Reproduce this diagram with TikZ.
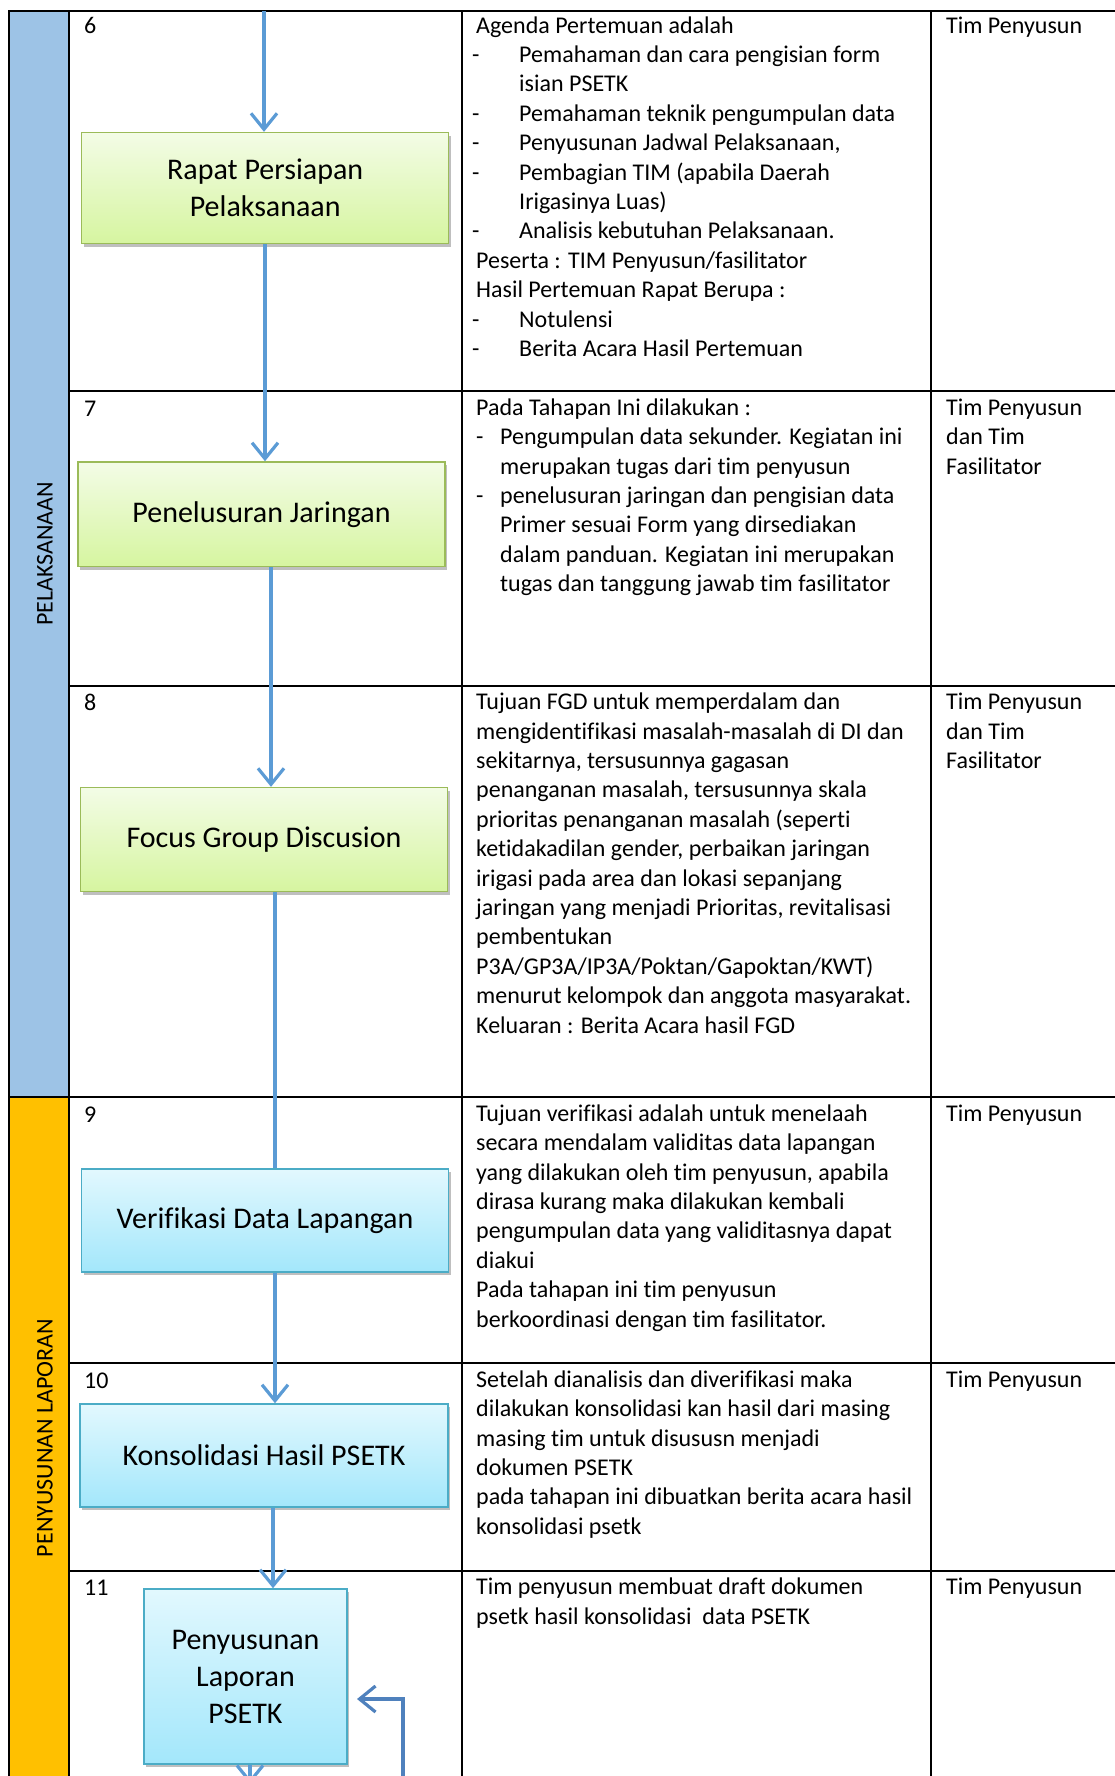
\documentclass[tikz,border=0pt]{standalone}
\usepackage{fontspec}
\setmainfont{Carlito}[Ligatures=NoCommon]
\usetikzlibrary{arrows.meta,shadows}
\definecolor{bandblue}{HTML}{9DC3E6}
\definecolor{bandorange}{HTML}{FFC000}
\definecolor{flowblue}{HTML}{5B9BD5}
\definecolor{loopblue}{HTML}{4F81BD}
\definecolor{greenedge}{HTML}{9BBB59}
\definecolor{greentop}{HTML}{F3FCE6}
\definecolor{greenbot}{HTML}{D6F5A0}
\definecolor{cyanedge}{HTML}{4BACC6}
\definecolor{cyantop}{HTML}{E2F8FE}
\definecolor{cyanbot}{HTML}{A3E7FB}

% list helpers for the description column
\newcommand\itemA{\hspace*{-4pt}\makebox[47pt][l]{-}}
\newcommand\contA{\hspace*{43pt}}
\newcommand\itemB{\makebox[24pt][l]{-}}
\newcommand\contB{\hspace*{24pt}}
\newcommand\firstline{\rule{0pt}{20pt}}

\begin{document}
\begin{tikzpicture}[x=1pt,y=-1pt,
  grid/.style={line width=2pt, black},
  cell/.style={anchor=north west, inner sep=0pt, align=left, font=\fontsize{24}{29.4}\selectfont},
  num/.style={anchor=base west, inner sep=0pt, font=\fontsize{24}{29.4}\selectfont},
  band/.style={rotate=90, inner sep=0pt, font=\fontsize{24}{29.4}\selectfont},
  stepbase/.style={line width=1.5pt, align=center, inner sep=0pt,
    font=\fontsize{30}{37}\selectfont,
    drop shadow={shadow xshift=2pt, shadow yshift=-3pt, opacity=0.25, fill=black}},
  greenstep/.style={stepbase, draw=greenedge, top color=greentop, bottom color=greenbot},
  cyanstep/.style={stepbase, draw=cyanedge, top color=cyantop, bottom color=cyanbot},
  flowline/.style={draw=flowblue, line width=3.2pt},
  flow/.style={flowline, -{Straight Barb[length=16pt,width=26pt]}},
  loopflow/.style={draw=loopblue, line width=3.2pt, -{Straight Barb[length=16pt,width=26pt]}},
]
\useasboundingbox (0,0) rectangle (1115,1776);

% phase bands
\fill[bandblue] (9,11) rectangle (69,1097);
\fill[bandorange] (9,1097) rectangle (69,1800);
\node[band] (phase1) at (45,554) {PELAKSANAAN};
\node[band] (phase2) at (45,1438) {PENYUSUNAN LAPORAN};

% table grid
\draw[grid] (9,1800) -- (9,11) -- (1120,11);
\draw[grid] (69,11) -- (69,1800);
\draw[grid] (462,11) -- (462,1800);
\draw[grid] (931,11) -- (931,1800);
\draw[grid] (69,391) -- (1120,391);
\draw[grid] (69,685.5) -- (1120,685.5);
\draw[grid] (9,1097) -- (1120,1097);
\draw[grid] (69,1363) -- (1120,1363);
\draw[grid] (69,1570.5) -- (1120,1570.5);

% step numbers
\node[num] (n6) at (84,34) {6};
\node[num] (n7) at (84,416) {7};
\node[num] (n8) at (84,710.5) {8};
\node[num] (n9) at (84,1122) {9};
\node[num] (n10) at (84,1388) {10};
\node[num] (n11) at (84,1595.5) {11};

% descriptions
\node[cell] (d6) at (476,13) {\firstline Agenda Pertemuan adalah\\
\itemA Pemahaman dan cara pengisian form\\
\contA isian PSETK\\
\itemA Pemahaman teknik pengumpulan data\\
\itemA Penyusunan Jadwal Pelaksanaan,\\
\itemA Pembagian TIM (apabila Daerah\\
\contA Irigasinya Luas)\\
\itemA Analisis kebutuhan Pelaksanaan.\\
Peserta : TIM Penyusun/fasilitator\\
Hasil Pertemuan Rapat Berupa :\\
\itemA Notulensi\\
\itemA Berita Acara Hasil Pertemuan};

\node[cell] (d7) at (476,395) {\firstline Pada Tahapan Ini dilakukan :\\
\itemB Pengumpulan data sekunder. Kegiatan ini\\
\contB merupakan tugas dari tim penyusun\\
\itemB penelusuran jaringan dan pengisian data\\
\contB Primer sesuai Form yang dirsediakan\\
\contB dalam panduan. Kegiatan ini merupakan\\
\contB tugas dan tanggung jawab tim fasilitator};

\node[cell] (d8) at (476,689.5) {\firstline Tujuan FGD untuk memperdalam dan\\
mengidentifikasi masalah-masalah di DI dan\\
sekitarnya, tersusunnya gagasan\\
penanganan masalah, tersusunnya skala\\
prioritas penanganan masalah (seperti\\
ketidakadilan gender, perbaikan jaringan\\
irigasi pada area dan lokasi sepanjang\\
jaringan yang menjadi Prioritas, revitalisasi\\
pembentukan\\
P3A/GP3A/IP3A/Poktan/Gapoktan/KWT)\\
menurut kelompok dan anggota masyarakat.\\
Keluaran : Berita Acara hasil FGD};

\node[cell] (d9) at (476,1101) {\firstline Tujuan verifikasi adalah untuk menelaah\\
secara mendalam validitas data lapangan\\
yang dilakukan oleh tim penyusun, apabila\\
dirasa kurang maka dilakukan kembali\\
pengumpulan data yang validitasnya dapat\\
diakui\\
Pada tahapan ini tim penyusun\\
berkoordinasi dengan tim fasilitator.};

\node[cell] (d10) at (476,1367) {\firstline Setelah dianalisis dan diverifikasi maka\\
dilakukan konsolidasi kan hasil dari masing\\
masing tim untuk disususn menjadi\\
dokumen PSETK\\
pada tahapan ini dibuatkan berita acara hasil\\
konsolidasi psetk};

\node[cell] (d11) at (476,1574.5) {\firstline Tim penyusun membuat draft dokumen\\
psetk hasil konsolidasi\ \ data PSETK};

% responsible parties
\node[cell] (p6) at (946,13) {\firstline Tim Penyusun};
\node[cell] (p7) at (946,395) {\firstline Tim Penyusun\\dan Tim\\Fasilitator};
\node[cell] (p8) at (946,689.5) {\firstline Tim Penyusun\\dan Tim\\Fasilitator};
\node[cell] (p9) at (946,1101) {\firstline Tim Penyusun};
\node[cell] (p10) at (946,1367) {\firstline Tim Penyusun};
\node[cell] (p11) at (946,1574.5) {\firstline Tim Penyusun};

% process steps
\node[greenstep, minimum width=367pt, minimum height=111pt] (rapat) at (265.2,188.1) {Rapat Persiapan\\Pelaksanaan};
\node[greenstep, minimum width=367pt, minimum height=104.6pt] (pene) at (261.5,514.3) {Penelusuran Jaringan};
\node[greenstep, minimum width=367pt, minimum height=104pt] (focus) at (264,839.6) {Focus Group Discusion};
\node[cyanstep, minimum width=367pt, minimum height=103pt] (verif) at (265,1220.5) {Verifikasi Data Lapangan};
\node[cyanstep, minimum width=368pt, minimum height=103pt] (konsol) at (264,1455.5) {Konsolidasi Hasil PSETK};
\node[cyanstep, minimum width=203pt, minimum height=175pt] (peny) at (245.5,1676.5) {Penyusunan\\Laporan\\PSETK};

% connector guides
\coordinate (topin) at (264,11);
\coordinate (c1) at (265,0);
\coordinate (c2) at (271,0);
\coordinate (c3) at (275,0);
\coordinate (c4) at (273,0);
\coordinate (c5) at (250,0);
\coordinate (botout) at (250,1784);
\coordinate (retin) at (403,1800);
\coordinate (retend) at (357,1699);

% connectors
\draw[flow] (topin) -- (rapat.north -| topin);
\draw[flow] (rapat.south -| c1) -- (pene.north -| c1);
\draw[flow] (pene.south -| c2) -- (focus.north -| c2);
\draw[flowline] (focus.south -| c3) -- (verif.north -| c3);
\draw[flow] (verif.south -| c3) -- (konsol.north -| c3);
\draw[flow] (konsol.south -| c4) -- (peny.north -| c4);
\draw[flow] (peny.south -| c5) -- (botout);
\draw[loopflow] (retin) |- (retend);
\end{tikzpicture}
\end{document}
